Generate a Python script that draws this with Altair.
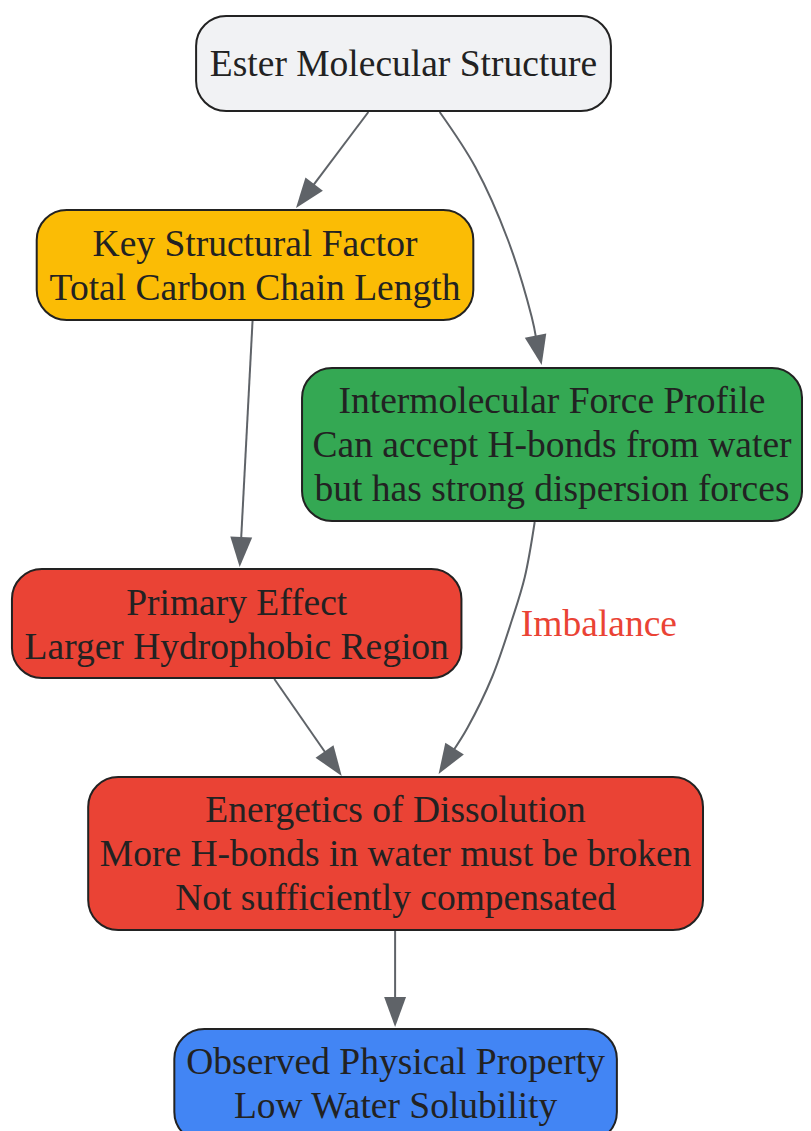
import math
import altair as alt
import pandas as pd

# ---------------- data ----------------
node_lines = [
    ["Ester Molecular Structure"],
    ["Key Structural Factor", "Total Carbon Chain Length"],
    ["Intermolecular Force Profile", "Can accept H-bonds from water", "but has strong dispersion forces"],
    ["Primary Effect", "Larger Hydrophobic Region"],
    ["Energetics of Dissolution", "More H-bonds in water must be broken", "Not sufficiently compensated"],
    ["Observed Physical Property", "Low Water Solubility"],
]
node_x0 = [198, 37, 305, 12, 89, 176]
node_x1 = [617, 478, 810, 466, 710, 623]
node_y0 = [16, 210, 368, 569, 777, 1029]
node_y1 = [111, 320, 521, 678, 930, 1142]
node_text_cy = [65, 267, 446, 625.5, 855, 1085]
node_fill = ["#f1f2f4", "#fbbc05", "#34a853", "#ea4335", "#ea4335", "#4285f4"]

# edge waypoints (last point = arrow tip)
edge_points = [
    [(372, 112), (299, 208)],
    [(444, 112), (480, 167), (513, 240), (537, 317), (547, 365)],
    [(255, 321), (242, 567)],
    [(540, 522), (530, 577), (517, 620), (497, 677), (472, 728), (443, 774)],
    [(277, 679), (345, 776)],
    [(399, 931), (399, 1027)],
]
edge_label = "Imbalance"
edge_label_pos = (526, 625)

LINE_H = 44
FONT = "Liberation Serif"
FS = 37.5
ARROW_LEN = 30

# ---------------- tables ----------------
rects = pd.DataFrame({"x0": node_x0, "x1": node_x1, "y0": node_y0, "y1": node_y1, "fill": node_fill})

text_rows = []
for i, lines in enumerate(node_lines):
    cx = (node_x0[i] + node_x1[i]) / 2
    n = len(lines)
    for j, t in enumerate(lines):
        text_rows.append({"x": cx, "y": node_text_cy[i] + (j - (n - 1) / 2) * LINE_H, "t": t})
texts = pd.DataFrame(text_rows)

line_rows, arrow_rows = [], []
for e, pts in enumerate(edge_points):
    (px, py), (tx, ty) = pts[-2], pts[-1]
    d = math.hypot(tx - px, ty - py)
    ux, uy = (tx - px) / d, (ty - py) / d
    base = (tx - ux * (ARROW_LEN - 4), ty - uy * (ARROW_LEN - 4))
    use = pts[:-1] + [base]
    for k, (x, y) in enumerate(use):
        line_rows.append({"edge": e, "k": k, "x": x, "y": y})
    ang = math.degrees(math.atan2(ux, -uy)) % 360
    arrow_rows.append({"x": tx - ux * ARROW_LEN / 2, "y": ty - uy * ARROW_LEN / 2, "angle": ang})
lines_df = pd.DataFrame(line_rows)
arrows = pd.DataFrame(arrow_rows)
label_df = pd.DataFrame({"x": [edge_label_pos[0]], "y": [edge_label_pos[1]], "t": [edge_label]})

# ---------------- chart ----------------
W, H = 795, 1125
xs = alt.Scale(domain=[8, 811], nice=False, zero=False)
ys = alt.Scale(domain=[8, 8 + H], nice=False, zero=False, reverse=True)

rect_layer = alt.Chart(rects).mark_rect(cornerRadius=30, stroke="#222222", strokeWidth=2).encode(
    x=alt.X("x0:Q", scale=xs, axis=None), x2="x1:Q",
    y=alt.Y("y0:Q", scale=ys, axis=None), y2="y1:Q",
    fill=alt.Fill("fill:N", scale=None),
)

edge_layer = alt.Chart(lines_df).mark_line(color="#5f6368", strokeWidth=2, interpolate="catmull-rom").encode(
    x=alt.X("x:Q", scale=xs, axis=None),
    y=alt.Y("y:Q", scale=ys, axis=None),
    detail="edge:N",
    order="k:Q",
)

arrow_layer = alt.Chart(arrows).mark_point(
    shape="M0,-1L0.73,1L-0.73,1Z", size=ARROW_LEN * ARROW_LEN, filled=True,
    fill="#5f6368", color="#5f6368", opacity=1, strokeWidth=0,
).encode(
    x=alt.X("x:Q", scale=xs, axis=None),
    y=alt.Y("y:Q", scale=ys, axis=None),
    angle=alt.Angle("angle:Q", scale=None),
)

text_layer = alt.Chart(texts).mark_text(font=FONT, fontSize=FS, color="#222222", baseline="middle", align="center").encode(
    x=alt.X("x:Q", scale=xs, axis=None),
    y=alt.Y("y:Q", scale=ys, axis=None),
    text="t:N",
)

label_layer = alt.Chart(label_df).mark_text(font=FONT, fontSize=FS, color="#ea4335", baseline="middle", align="left").encode(
    x=alt.X("x:Q", scale=xs, axis=None),
    y=alt.Y("y:Q", scale=ys, axis=None),
    text="t:N",
)

chart = alt.layer(edge_layer, arrow_layer, rect_layer, text_layer, label_layer).properties(
    width=W, height=H, padding=0, autosize=alt.AutoSizeParams(type="none"), background="white"
).configure_view(stroke=None)

chart.save("out.html", embed_options={"renderer": "svg", "actions": False})
